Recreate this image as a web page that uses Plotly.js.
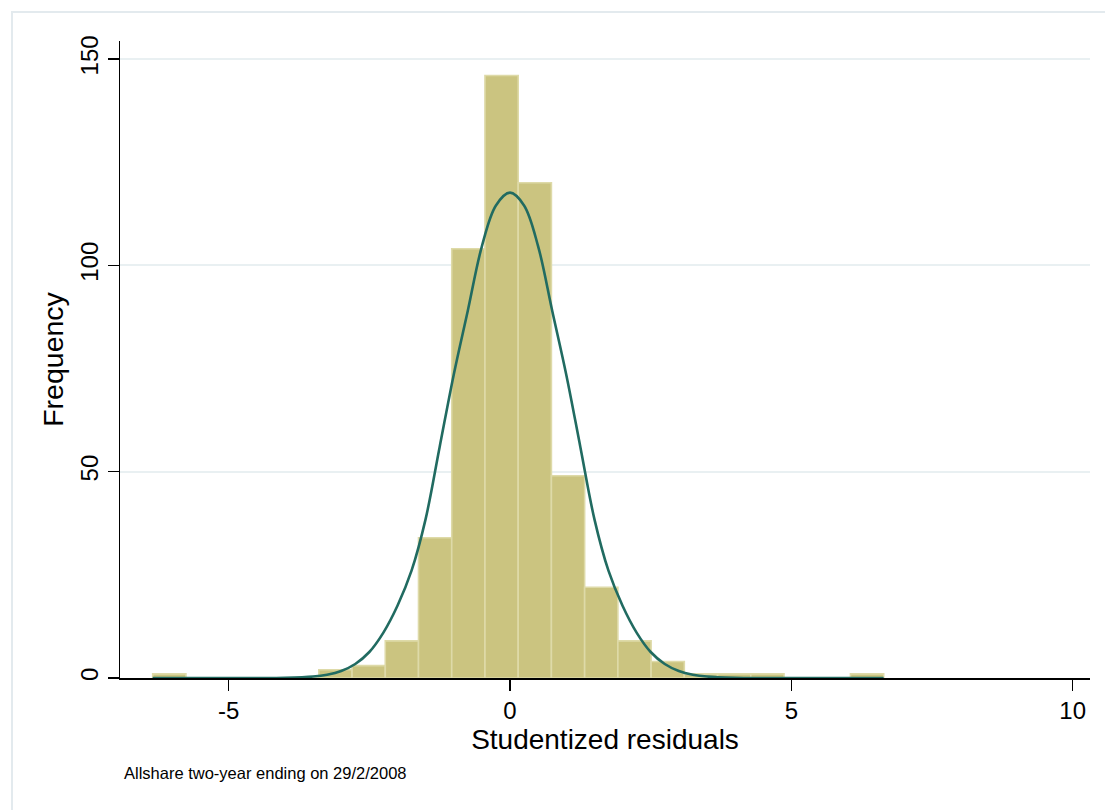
<!DOCTYPE html>
<html>
<head>
<meta charset="utf-8">
<script src="https://cdn.plot.ly/plotly-3.0.1.min.js"></script>
<style>html,body{margin:0;padding:0;background:#fff;}#chart{width:1105px;height:810px;}</style>
</head>
<body>
<div id="chart"></div>
<script>
// Histogram bins (studentized residuals)
const binStart = -6.35;
const binWidth = 0.5905;
const counts = [1, 0, 0, 0, 0, 2, 3, 9, 34, 104, 146, 120, 49, 22, 9, 4, 1, 1, 1, 0, 0, 1];

// Overlaid normal density curve
const curveX = [-6.35, -5.0, -4.5, -4.0, -3.5, -3.25, -3.0, -2.75, -2.5, -2.25, -2.0, -1.75, -1.5, -1.25, -1.0, -0.75, -0.5, -0.25, 0.0, 0.25, 0.5, 0.75, 1.0, 1.25, 1.5, 1.75, 2.0, 2.25, 2.5, 2.75, 3.0, 3.25, 3.5, 4.0, 4.5, 5.0, 6.64];
const curveY = [0, 0, 0.01, 0.06, 0.35, 0.8, 1.7, 3.4, 6.3, 11.0, 17.5, 26.0, 38.5, 56.0, 73.5, 89.0, 104.6, 114.5, 117.6, 114.5, 104.6, 89.0, 73.5, 56.0, 38.5, 26.0, 17.5, 11.0, 6.3, 3.4, 1.7, 0.8, 0.35, 0.06, 0.01, 0, 0];

// Axis ticks
const xTickVals = [-5, 0, 5, 10];
const xTickText = ["-5", "0", "5", "10"];
const yTickVals = [0, 50, 100, 150];
const yTickText = ["0", "50", "100", "150"];

const xTitle = "Studentized residuals";
const yTitle = "Frequency";
const noteText = "Allshare two-year ending on 29/2/2008";

const binCenters = counts.map((c, i) => binStart + (i + 0.5) * binWidth);
const binWidths = counts.map(() => binWidth);

const W = 1105, H = 810;
const L = 120, R = 1090, T = 41, B = 678;
const pw = R - L, ph = B - T;
const px = v => (v - L) / pw;
const py = v => (B - v) / ph;

const traces = [
  {
    type: 'bar',
    x: binCenters,
    y: counts,
    width: binWidths,
    marker: {color: '#cbc480', line: {color: '#dedaa8', width: 1.6}},
    hoverinfo: 'x+y',
    showlegend: false
  },
  {
    type: 'scatter',
    mode: 'lines',
    x: curveX,
    y: curveY,
    line: {color: '#216b61', width: 2.6, shape: 'spline', smoothing: 1},
    showlegend: false,
    hoverinfo: 'skip'
  }
];

const font = "Liberation Sans, Arial, Helvetica, sans-serif";

const layout = {
  width: W,
  height: H,
  paper_bgcolor: '#ffffff',
  plot_bgcolor: '#ffffff',
  margin: {l: L, r: W - R, t: T, b: H - B, pad: 0},
  showlegend: false,
  bargap: 0,
  font: {family: font, color: '#000000'},
  xaxis: {
    range: [(L - 510) / 56.27, (R - 510) / 56.27],
    tickmode: 'array',
    tickvals: xTickVals,
    ticktext: xTickText,
    ticks: 'outside',
    ticklen: 11,
    tickwidth: 1.5,
    tickcolor: '#000',
    tickfont: {family: font, size: 24, color: '#000'},
    showline: true,
    linecolor: '#000',
    linewidth: 1.5,
    showgrid: false,
    zeroline: false,
    title: {text: xTitle, font: {family: font, size: 28, color: '#000'}, standoff: 6},
    fixedrange: true
  },
  yaxis: {
    range: [0, (B - T) / 4.127],
    tickmode: 'array',
    tickvals: yTickVals,
    ticktext: yTickText,
    tickangle: -90,
    ticks: 'outside',
    ticklen: 11,
    tickwidth: 1.5,
    tickcolor: '#000',
    tickfont: {family: font, size: 24, color: '#000'},
    showline: true,
    linecolor: '#000',
    linewidth: 1.5,
    showgrid: true,
    gridcolor: '#e9f0f2',
    gridwidth: 2,
    zeroline: false,
    title: {text: yTitle, font: {family: font, size: 28.5, color: '#000'}, standoff: 4},
    fixedrange: true
  },
  shapes: [
    {type: 'rect', xref: 'paper', yref: 'paper', layer: 'below',
     x0: px(12), x1: px(1125), y0: py(830), y1: py(12),
     line: {color: '#e3eaee', width: 2}, fillcolor: 'rgba(0,0,0,0)'},
    {type: 'line', xref: 'paper', yref: 'y',
     x0: px(108), x1: 0, y0: 0, y1: 0,
     line: {color: '#000', width: 1.5}}
  ],
  annotations: [
    {text: noteText, xref: 'paper', yref: 'paper', x: px(122), y: py(773),
     xanchor: 'left', yanchor: 'middle', showarrow: false,
     font: {family: font, size: 16.5, color: '#000'}}
  ]
};

Plotly.newPlot('chart', traces, layout, {displayModeBar: false, staticPlot: true});
</script>
</body>
</html>
